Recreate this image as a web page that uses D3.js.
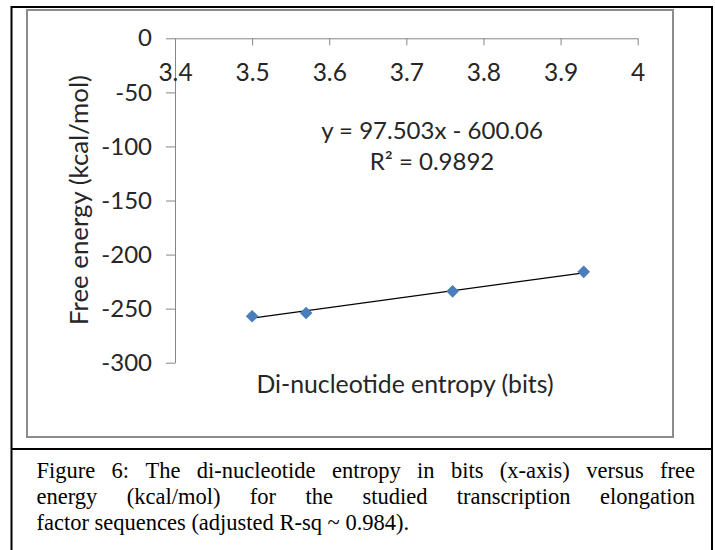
<!DOCTYPE html>
<html lang="en">
<head>
<meta charset="UTF-8"/>
<title>Figure 6</title>
<style>
  body { margin: 0; background: #ffffff; }
  svg { display: block; }
  .tick text { fill: #262626; font-family: Lato, "Open Sans", sans-serif; }
  .axis_title, .eq_text { fill: #262626; font-family: Lato, "Open Sans", sans-serif; }
  .caption { fill: #000; font-family: "Liberation Serif", "DejaVu Serif", serif; }
</style>
</head>
<body>
<svg width="715" height="550"></svg>
<script src="https://d3js.org/d3.v7.min.js"></script>
<script>
// data
const entropy = [3.5, 3.57, 3.76, 3.93];
const freeEnergy = [-257, -254, -234, -216];
const xTicks = [3.4, 3.5, 3.6, 3.7, 3.8, 3.9, 4];
const yTicks = [0, -50, -100, -150, -200, -250, -300];
const trendSlope = 97.503;
const trendIntercept = -600.06;
const captionLines = [
  "Figure 6: The di-nucleotide entropy in bits (x-axis) versus free",
  "energy (kcal/mol) for the studied transcription elongation",
  "factor sequences (adjusted R-sq ~ 0.984)."
];

const svg = d3.select('svg');

// frames
svg.append('path')
  .attr('d', 'M11.5,560 V7 H712 V560')
  .attr('fill', 'none').attr('stroke', '#000').attr('stroke-width', 2);
svg.append('line')
  .attr('x1', 11.5).attr('x2', 712).attr('y1', 449).attr('y2', 449)
  .attr('stroke', '#000').attr('stroke-width', 2);
svg.append('rect')
  .attr('x', 27).attr('y', 10).attr('width', 646).attr('height', 427)
  .attr('fill', '#fff').attr('stroke', '#8c8c8c').attr('stroke-width', 2);

// scales
const x = d3.scaleLinear().domain([3.4, 4]).range([175, 637.7]);
const y = d3.scaleLinear().domain([-300, 0]).range([362.7, 38.3]);

const axisColor = '#868686';

// y axis
const yAxis = svg.append('g')
  .attr('transform', `translate(${x(3.4)},0)`)
  .call(d3.axisLeft(y).tickValues(yTicks).tickSize(9).tickSizeOuter(0).tickPadding(14)
    .tickFormat(d3.format('d')));
yAxis.selectAll('text').style('font-size', '24px').text(d => d === 0 ? '0' : '-' + Math.abs(d));

// x axis (crossing at y = 0)
const xAxis = svg.append('g')
  .attr('transform', `translate(0,${y(0)})`)
  .call(d3.axisBottom(x).tickValues(xTicks).tickSize(7).tickSizeOuter(0).tickPadding(18)
    .tickFormat(d => d3.format('')(d)));
xAxis.selectAll('text').style('font-size', '24.5px');

svg.selectAll('.domain, .tick line').attr('stroke', axisColor);

// trendline
const xs = d3.extent(entropy);
svg.append('line')
  .attr('x1', x(xs[0])).attr('y1', y(trendSlope * xs[0] + trendIntercept))
  .attr('x2', x(xs[1])).attr('y2', y(trendSlope * xs[1] + trendIntercept))
  .attr('stroke', '#000').attr('stroke-width', 1.2);

// markers
const diamond = d3.symbol().type(d3.symbolSquare).size(80);
svg.selectAll('.pt')
  .data(entropy.map((e, i) => [e, freeEnergy[i]]))
  .join('path')
  .attr('class', 'pt')
  .attr('d', diamond)
  .attr('fill', '#4a7ebb')
  .attr('transform', d => `translate(${x(d[0])},${y(d[1])}) rotate(45)`);

// equation
const eq = svg.append('text').attr('class', 'eq_text')
  .attr('text-anchor', 'middle').style('font-size', '24px');
eq.append('tspan').attr('x', 432).attr('y', 139)
  .text(`y = ${trendSlope}x - ${Math.abs(trendIntercept).toFixed(2)}`);
eq.append('tspan').attr('x', 432).attr('y', 170).text('R² = 0.9892');

// axis titles
svg.append('text').attr('class', 'axis_title')
  .attr('x', 405).attr('y', 393)
  .attr('text-anchor', 'middle').style('font-size', '24.8px')
  .text('Di-nucleotide entropy (bits)');

svg.append('text').attr('class', 'axis_title')
  .attr('transform', 'translate(88,200) rotate(-90)')
  .attr('text-anchor', 'middle').style('font-size', '25.8px')
  .text('Free energy (kcal/mol)');

// caption, justified
const capLeft = 36.5, capRight = 695, capTop = 478, capStep = 26;
captionLines.forEach((line, li) => {
  const words = line.split(' ');
  const t = svg.append('text').attr('class', 'caption').style('font-size', '22.5px')
    .attr('y', capTop + li * capStep);
  const spans = words.map(w => t.append('tspan').text(w));
  const widths = spans.map(s => s.node().getComputedTextLength());
  const total = d3.sum(widths);
  const justify = li < captionLines.length - 1;
  const gap = justify ? (capRight - capLeft - total) / (words.length - 1) : 5.6;
  let cx = capLeft;
  spans.forEach((s, i) => {
    s.attr('x', cx);
    cx += widths[i] + gap;
  });
});
</script>
</body>
</html>
